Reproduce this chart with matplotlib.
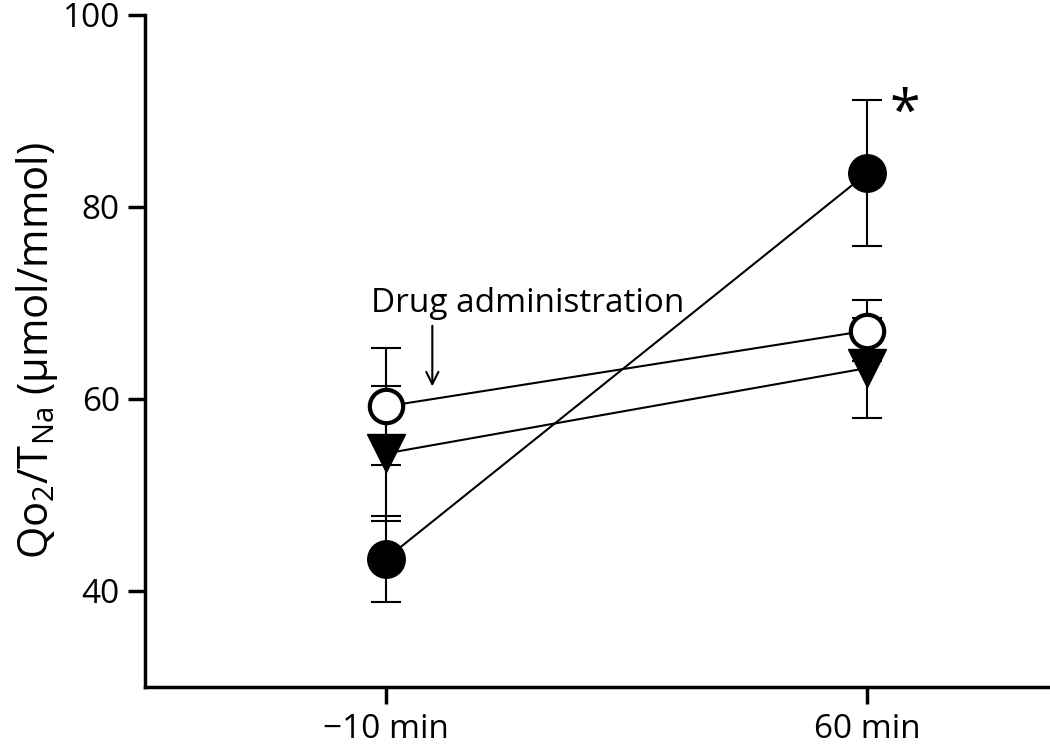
import matplotlib
matplotlib.use('Agg')
import matplotlib.pyplot as plt

plt.rcParams['font.family'] = ['Open Sans', 'DejaVu Sans']
plt.rcParams['mathtext.fontset'] = 'custom'
plt.rcParams['mathtext.rm'] = 'Open Sans'
plt.rcParams['mathtext.it'] = 'Open Sans'

times = ['\u221210 min', '60 min']
x = [0, 1]

filled_circle = [43.3, 83.5]
filled_circle_err = [4.5, 7.6]
open_circle = [59.2, 67.1]
open_circle_err = [6.1, 3.2]
triangle = [54.3, 63.2]
triangle_err = [7.0, 5.2]

fig = plt.figure(figsize=(10.5, 7.44), dpi=100)
ax = fig.add_axes([0.138, 0.077, 0.862, 0.903])

# error bars first, markers on top
for ys, err in ((triangle, triangle_err), (filled_circle, filled_circle_err),
                (open_circle, open_circle_err)):
    ax.errorbar(x, ys, yerr=err, fmt='none', ecolor='black', elinewidth=1.5,
                capsize=11, capthick=1.5, zorder=2)
    ax.plot(x, ys, color='black', linewidth=1.5, zorder=2)

ax.plot(x, triangle, 'v', markersize=27, color='black', zorder=3)
ax.plot(x, filled_circle, 'o', markersize=27, color='black', zorder=3)
ax.plot(x, open_circle, 'o', markersize=24, markerfacecolor='white',
        markeredgecolor='black', markeredgewidth=3, zorder=4)

ax.annotate('', xy=(0.097, 61.0), xytext=(0.097, 67.9),
            arrowprops=dict(arrowstyle='->', color='black', lw=1.5, mutation_scale=22))
ax.text(-0.03, 68.2, 'Drug administration', fontsize=24, ha='left', va='bottom')
ax.text(1.079, 89.5, '*', fontsize=40, ha='center', va='center')

ax.set_xlim(-0.5, 1.38)
ax.set_ylim(30, 100)
ax.set_yticks([40, 60, 80, 100])
ax.set_xticks(x)
ax.set_xticklabels(times)
ax.tick_params(labelsize=24, width=2.5, length=12, direction='out')
ax.tick_params(axis='y', pad=6)
ax.tick_params(axis='x', pad=7)
ax.set_ylabel(r'Qo$_2$/T$_{\mathrm{Na}}$ (µmol/mmol)', fontsize=30, labelpad=2)

for s in ['top', 'right']:
    ax.spines[s].set_visible(False)
for s in ['left', 'bottom']:
    ax.spines[s].set_linewidth(2.5)

plt.savefig('out.png', dpi=100)
